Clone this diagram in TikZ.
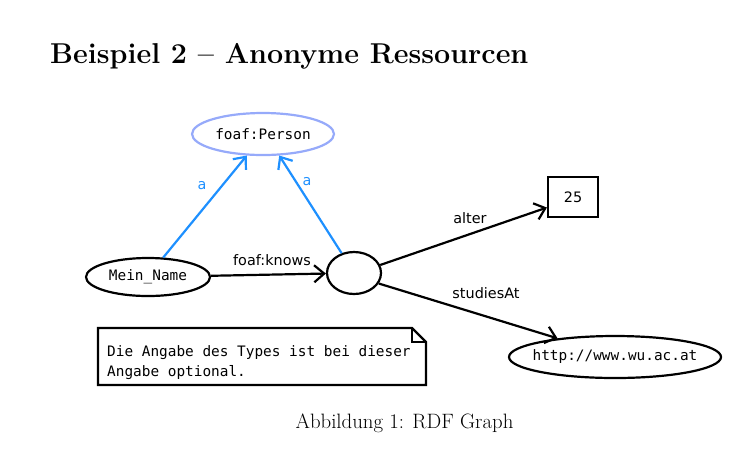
\documentclass[tikz,border=0pt]{standalone}
\usepackage{fontspec}
\setmainfont{Latin Modern Roman}
\newfontfamily\monof{DejaVu Sans Mono}
\newfontfamily\sansf{DejaVu Sans}
\usetikzlibrary{arrows.meta,shapes.geometric}
\definecolor{edgeblue}{RGB}{30,144,255}
\definecolor{classblue}{RGB}{150,170,250}
\begin{document}
\begin{tikzpicture}[x=1pt,y=-1pt,
  res/.style={draw,ellipse,line width=2.2pt,inner sep=0pt,font=\monof\fontsize{14.4}{17}\selectfont},
  lit/.style={draw,rectangle,line width=2.2pt,inner sep=0pt,font=\sansf\fontsize{14.4}{17}\selectfont},
  edge/.style={line width=2.2pt,-{Straight Barb[length=10pt,width=17pt,line width=2.2pt]}},
  lbl/.style={font=\sansf\fontsize{14.4}{17}\selectfont,inner sep=0pt},
  tlbl/.style={font=\sansf\fontsize{14.4}{17}\selectfont,inner sep=0pt,text=edgeblue}]
\useasboundingbox (0,0) rectangle (743,451);
\node[anchor=base west,inner sep=0pt,font=\fontsize{28.7}{34}\selectfont\bfseries] (title) at (50,63) {Beispiel 2 -- Anonyme Ressourcen};
\node[res,draw=classblue,minimum width=142pt,minimum height=42pt] (person) at (263,134) {foaf:Person};
\node[res,minimum width=124pt,minimum height=38pt] (mein) at (148,277) {Mein\_Name};
\node[res,minimum width=54pt,minimum height=42pt] (blank) at (354,273) {};
\node[lit,minimum width=50pt,minimum height=40pt] (age) at (573,197) {25};
\node[res,inner xsep=-8pt,minimum width=212pt,minimum height=42pt] (wu) at (615,357) {http://www.wu.ac.at};
\draw[edge,edgeblue] (mein.52) -- (person.233);
\draw[edge,edgeblue] (blank.122) -- (person.307);
\draw[edge] (mein) -- (blank);
\draw[edge] (blank.17) -- (age.202);
\draw[edge] (blank.337) -- (wu.162);
\node[lbl] (knows) at (272,260) {foaf:knows};
\node[lbl] (alter) at (470,218) {alter};
\node[lbl] (studies) at (486,293) {studiesAt};
\node[tlbl] (a1) at (202,186) {a};
\node[tlbl] (a2) at (307,182) {a};
\coordinate (n1) at (98,328);
\coordinate (n2) at (412,328);
\coordinate (n3) at (426,342);
\coordinate (n4) at (426,385);
\coordinate (n5) at (98,385);
\draw[line width=2.2pt] (n1) -- (n2) -- (n3) -- (n4) -- (n5) -- cycle;
\draw[line width=1.4pt] (n2) -- (n2 |- n3) -- (n3);
\node[anchor=north west,align=left,inner sep=0pt,font=\monof\fontsize{14.4}{20}\selectfont] (note) at (107,345) {Die Angabe des Types ist bei dieser\\Angabe optional.};
\node[anchor=base,inner sep=0pt,font=\fontsize{20.8}{24}\selectfont] (cap) at (404.5,428) {Abbildung 1: RDF Graph};
\end{tikzpicture}
\end{document}
